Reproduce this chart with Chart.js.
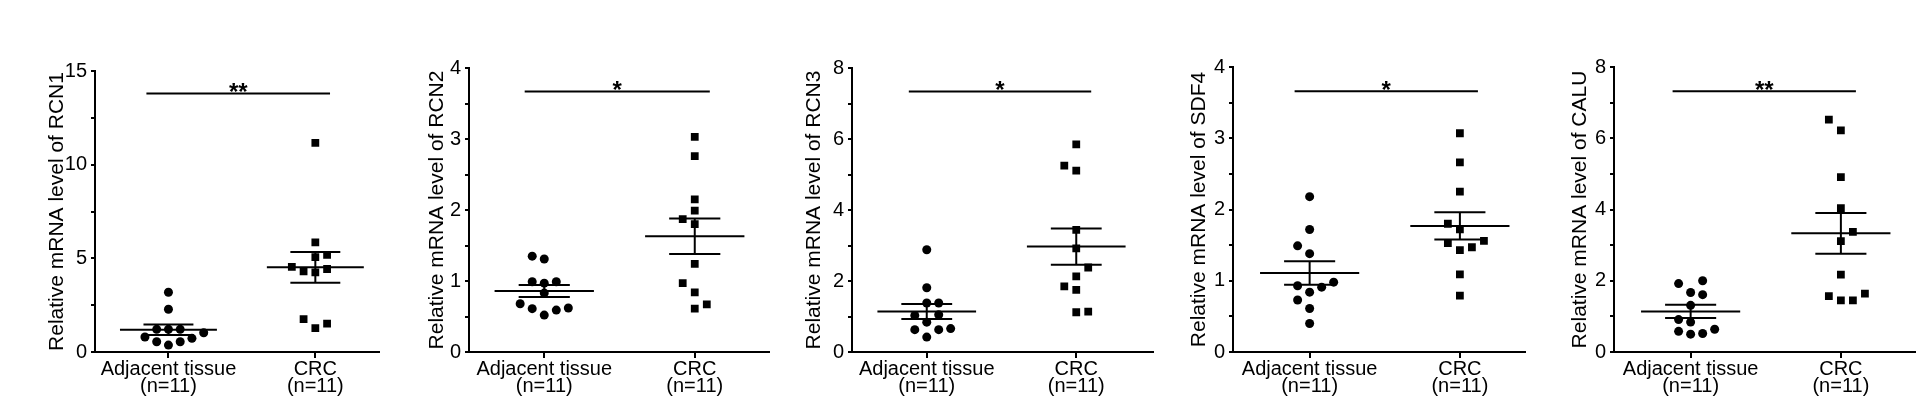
<!DOCTYPE html>
<html>
<head>
<meta charset="utf-8">
<script src="https://cdn.jsdelivr.net/npm/chart.js@4"></script>
<style>
  html, body { margin: 0; padding: 0; background: #fff; }
  body { width: 1920px; height: 417px; position: relative; overflow: hidden; }
  .panel { position: absolute; top: 0; height: 417px; }
</style>
</head>
<body>
<div class="panel" style="left:45px;width:339px"><canvas id="c0"></canvas></div>
<div class="panel" style="left:425px;width:349px"><canvas id="c1"></canvas></div>
<div class="panel" style="left:802px;width:356px"><canvas id="c2"></canvas></div>
<div class="panel" style="left:1187px;width:343px"><canvas id="c3"></canvas></div>
<div class="panel" style="left:1568px;width:352px"><canvas id="c4"></canvas></div>
<script>
// genes shown, one panel each
const genes = ['RCN1', 'RCN2', 'RCN3', 'SDF4', 'CALU'];
const groupLabels = [['Adjacent tissue', '(n=11)'], ['CRC', '(n=11)']];

// y axis range and labelled step
const yMax = [15, 4, 8, 4, 8];
const yStep = [5, 1, 2, 1, 2];

// relative mRNA levels, adjacent tissue (circles) and CRC (squares)
const rcn1Adj = [3.19, 2.28, 1.21, 1.21, 1.21, 1.03, 0.80, 0.55, 0.37, 0.55, 0.73];
const rcn1Crc = [11.16, 5.85, 5.18, 5.07, 4.54, 4.43, 4.31, 4.25, 1.76, 1.51, 1.28];
const rcn2Adj = [1.35, 1.31, 0.99, 0.97, 0.99, 0.83, 0.68, 0.61, 0.59, 0.62, 0.52];
const rcn2Crc = [3.03, 2.76, 2.15, 1.99, 1.87, 1.80, 1.24, 0.97, 0.84, 0.67, 0.61];
const rcn3Adj = [2.88, 1.81, 1.38, 1.38, 1.03, 1.05, 0.84, 0.63, 0.63, 0.66, 0.42];
const rcn3Crc = [5.85, 5.25, 5.11, 3.44, 2.92, 2.38, 2.13, 1.85, 1.75, 1.12, 1.14];
const sdf4Adj = [2.18, 1.72, 1.49, 1.38, 0.98, 0.93, 0.91, 0.84, 0.73, 0.61, 0.40];
const sdf4Crc = [3.07, 2.66, 2.25, 1.80, 1.72, 1.53, 1.56, 1.47, 1.43, 1.09, 0.79];
const caluAdj = [1.92, 2.00, 1.67, 1.61, 1.31, 0.91, 0.84, 0.58, 0.50, 0.52, 0.64];
const caluCrc = [6.52, 6.22, 4.91, 4.04, 3.37, 3.11, 2.17, 1.57, 1.45, 1.45, 1.64];

// horizontal scatter of each point around its group (x units)
const rcn1AdjX = [0, 0, -0.08, 0, 0.08, 0.24, -0.16, -0.08, 0, 0.08, 0.16];
const rcn1CrcX = [0, 0, 0.08, 0, -0.16, 0.08, -0.08, 0, -0.08, 0.08, 0];
const rcn2AdjX = [-0.08, 0, -0.08, 0, 0.08, 0, -0.16, -0.08, 0.08, 0.16, 0];
const rcn2CrcX = [0, 0, 0, 0, -0.08, 0, 0, -0.08, 0, 0.08, 0];
const rcn3AdjX = [0, 0, 0, 0.08, -0.08, 0.08, 0, -0.08, 0.08, 0.16, 0];
const rcn3CrcX = [0, -0.08, 0, 0, 0, 0.08, 0, -0.08, 0, 0, 0.08];
const sdf4AdjX = [0, 0, -0.08, 0, 0.16, -0.08, 0.08, 0, -0.08, 0, 0];
const sdf4CrcX = [0, 0, 0, -0.08, 0, -0.08, 0.16, 0.08, 0, 0, 0];
const caluAdjX = [-0.08, 0.08, 0, 0.08, 0, -0.08, 0, -0.08, 0, 0.08, 0.16];
const caluCrcX = [-0.08, 0, 0, 0, 0.08, 0, 0, -0.08, 0, 0.08, 0.16];

const adjVals = [rcn1Adj, rcn2Adj, rcn3Adj, sdf4Adj, caluAdj];
const crcVals = [rcn1Crc, rcn2Crc, rcn3Crc, sdf4Crc, caluCrc];
const adjJitter = [rcn1AdjX, rcn2AdjX, rcn3AdjX, sdf4AdjX, caluAdjX];
const crcJitter = [rcn1CrcX, rcn2CrcX, rcn3CrcX, sdf4CrcX, caluCrcX];

// mean and SEM as drawn
const meanAdj = [1.19, 0.86, 1.14, 1.11, 1.14];
const semAdj = [0.28, 0.085, 0.21, 0.165, 0.185];
const meanCrc = [4.52, 1.63, 2.97, 1.77, 3.33];
const semCrc = [0.82, 0.25, 0.51, 0.19, 0.57];

// significance bar
const sigLevel = [13.8, 3.67, 7.34, 3.66, 7.32];
const sigFrom = [0.85, 0.87, 0.88, 0.90, 0.88];
const sigTo = [2.10, 2.10, 2.10, 2.12, 2.10];
const sigStars = ['**', '*', '*', '*', '**'];

// layout per panel
const xMin = [0.5, 0.5, 0.5, 0.49, 0.49];
const xMax = [2.43, 2.49, 2.51, 2.43, 2.49];
const topPad = [71, 68, 68, 67, 67];
const yAxisWidth = [50, 44, 50, 46, 46];

const FONT = '"Liberation Sans", Arial, Helvetica, sans-serif';

const summaryPlugin = {
    id: 'summary',
    afterDatasetsDraw(chart, args, opts) {
        const p = opts.panel;
        const ctx = chart.ctx;
        const x = chart.scales.x, y = chart.scales.y;
        const hline = (x0, x1, v) => {
            ctx.beginPath();
            ctx.moveTo(x.getPixelForValue(x0), y.getPixelForValue(v));
            ctx.lineTo(x.getPixelForValue(x1), y.getPixelForValue(v));
            ctx.stroke();
        };
        ctx.save();
        ctx.strokeStyle = '#000';
        ctx.lineWidth = 2;
        [[1, meanAdj[p], semAdj[p]], [2, meanCrc[p], semCrc[p]]].forEach(([c, m, s]) => {
            hline(c - 0.33, c + 0.33, m);
            hline(c - 0.17, c + 0.17, m + s);
            hline(c - 0.17, c + 0.17, m - s);
            ctx.beginPath();
            ctx.moveTo(x.getPixelForValue(c), y.getPixelForValue(m - s));
            ctx.lineTo(x.getPixelForValue(c), y.getPixelForValue(m + s));
            ctx.stroke();
        });
        hline(sigFrom[p], sigTo[p], sigLevel[p]);
        ctx.fillStyle = '#000';
        ctx.font = 'bold 24px ' + FONT;
        ctx.textAlign = 'center';
        ctx.textBaseline = 'alphabetic';
        ctx.fillText(sigStars[p], x.getPixelForValue((sigFrom[p] + sigTo[p]) / 2), y.getPixelForValue(sigLevel[p]) + 7);
        ctx.restore();
    }
};

function makePanel(i) {
    const step = yStep[i];
    new Chart(document.getElementById('c' + i), {
        type: 'scatter',
        data: {
            datasets: [{
                data: adjVals[i].map((v, k) => ({ x: 1 + adjJitter[i][k], y: v })),
                pointStyle: 'circle',
                pointRadius: 4.5,
                backgroundColor: '#000',
                borderColor: '#000',
                borderWidth: 0
            }, {
                data: crcVals[i].map((v, k) => ({ x: 2 + crcJitter[i][k], y: v })),
                pointStyle: 'rect',
                pointRadius: 5.5,
                backgroundColor: '#000',
                borderColor: '#000',
                borderWidth: 0
            }]
        },
        options: {
            responsive: true,
            maintainAspectRatio: false,
            animation: false,
            events: [],
            layout: { padding: { top: topPad[i], right: 2, left: 0, bottom: 0 } },
            plugins: {
                legend: { display: false },
                tooltip: { enabled: false },
                summary: { panel: i }
            },
            scales: {
                x: {
                    type: 'linear',
                    min: xMin[i],
                    max: xMax[i],
                    afterBuildTicks: s => { s.ticks = [{ value: 1 }, { value: 2 }]; },
                    afterFit: s => { s.height = 65; },
                    ticks: {
                        autoSkip: false,
                        maxRotation: 0,
                        padding: 3,
                        color: '#000',
                        font: { family: FONT, size: 20, lineHeight: 0.85 },
                        callback: v => groupLabels[v === 1 ? 0 : 1]
                    },
                    grid: { drawOnChartArea: false, tickLength: 6, color: '#000', lineWidth: 2 },
                    border: { display: true, color: '#000', width: 2 }
                },
                y: {
                    min: 0,
                    max: yMax[i],
                    afterFit: s => { s.width = yAxisWidth[i]; },
                    ticks: {
                        stepSize: step / 2,
                        padding: 4,
                        color: '#000',
                        font: { family: FONT, size: 20 },
                        callback: v => Math.abs(v / step - Math.round(v / step)) < 1e-6 ? v : ''
                    },
                    grid: { drawOnChartArea: false, tickLength: 4, color: '#000', lineWidth: 2 },
                    border: { display: true, color: '#000', width: 2 },
                    title: {
                        display: true,
                        text: 'Relative mRNA level of ' + genes[i],
                        color: '#000',
                        padding: 0,
                        font: { family: FONT, size: 21, lineHeight: 1.15 }
                    }
                }
            }
        },
        plugins: [summaryPlugin]
    });
}

genes.forEach((g, i) => makePanel(i));
</script>
</body>
</html>
